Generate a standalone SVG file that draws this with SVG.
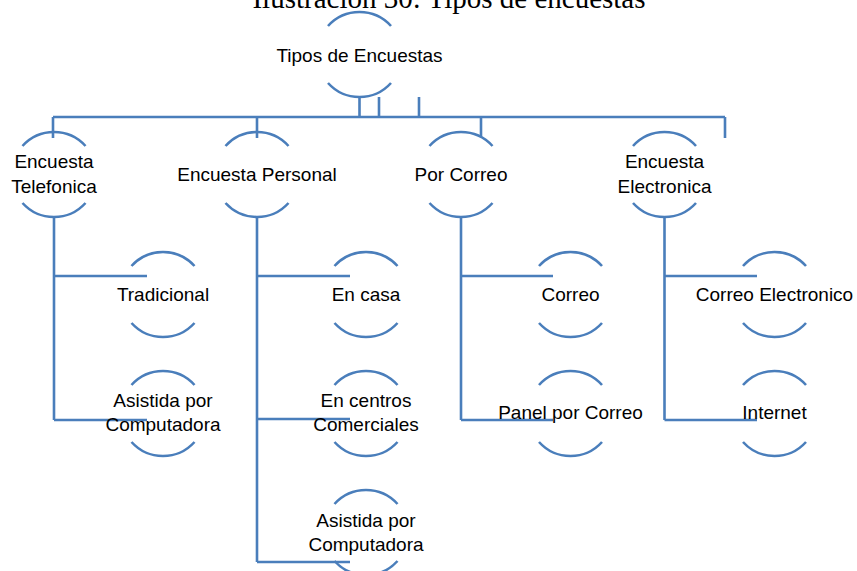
<svg xmlns="http://www.w3.org/2000/svg" xmlns:xlink="http://www.w3.org/1999/xlink" width="857" height="571" viewBox="0 0 857 571">
<style>
.arc{fill:none;stroke:#4A7EBB;stroke-width:2.6}
.ln{fill:none;stroke:#4A7EBB;stroke-width:2.6}
.t{font-family:"Liberation Sans",Arial,sans-serif;font-size:19px;fill:#000;text-anchor:middle}
.cap{font-family:"Liberation Serif","Times New Roman",serif;font-size:29px;fill:#000;text-anchor:middle}
</style>
<defs>
<path id="arcs" class="arc" d="M-31.5,-28.5 A42.5,42.5 0 0 1 31.5,-28.5 M-31.5,28.5 A42.5,42.5 0 0 0 31.5,28.5"/>
</defs>
<rect width="857" height="571" fill="#fff"/>
<text class="cap" x="449" y="7.5">Ilustración 30: Tipos de encuestas</text>
<g id="connectors" class="ln">
<path d="M359.5,97V117M379,97V117M419,97V117M53,117H725M53,117V138M257,117V138M481,117V136M725,117V138"/>
<path d="M54,217V420M54,276H147M54,420H147"/>
<path d="M257,217V562M257,276H350M257,419H350M257,562H350"/>
<path d="M461,217V420M461,276H553M461,420H553"/>
<path d="M664.5,217V420M664.5,276H757M664.5,420H757"/>
</g>
<g id="root"><use xlink:href="#arcs" x="359.5" y="54.5"/><text class="t" x="359.5" y="62">Tipos de Encuestas</text></g>
<g id="telefonica"><use xlink:href="#arcs" x="54" y="174.5"/><text class="t" x="54" y="168">Encuesta</text><text class="t" x="54" y="192.5">Telefonica</text></g>
<g id="personal"><use xlink:href="#arcs" x="257" y="174.5"/><text class="t" x="257" y="181">Encuesta Personal</text></g>
<g id="porcorreo"><use xlink:href="#arcs" x="461" y="174.5"/><text class="t" x="461" y="181">Por Correo</text></g>
<g id="electronica"><use xlink:href="#arcs" x="664.5" y="174.5"/><text class="t" x="664.5" y="168">Encuesta</text><text class="t" x="664.5" y="192.5">Electronica</text></g>
<g id="tradicional"><use xlink:href="#arcs" x="163" y="294.5"/><text class="t" x="163" y="301">Tradicional</text></g>
<g id="asistida1"><use xlink:href="#arcs" x="163" y="413.5"/><text class="t" x="163" y="407">Asistida por</text><text class="t" x="163" y="431">Computadora</text></g>
<g id="encasa"><use xlink:href="#arcs" x="366" y="294.5"/><text class="t" x="366" y="301">En casa</text></g>
<g id="encentros"><use xlink:href="#arcs" x="366" y="413.5"/><text class="t" x="366" y="407">En centros</text><text class="t" x="366" y="431">Comerciales</text></g>
<g id="asistida2"><use xlink:href="#arcs" x="366" y="532.5"/><text class="t" x="366" y="527">Asistida por</text><text class="t" x="366" y="551">Computadora</text></g>
<g id="correo"><use xlink:href="#arcs" x="570.5" y="294.5"/><text class="t" x="570.5" y="301">Correo</text></g>
<g id="panel"><use xlink:href="#arcs" x="570.5" y="413.5"/><text class="t" x="570.5" y="419">Panel por Correo</text></g>
<g id="correoelectronico"><use xlink:href="#arcs" x="774.5" y="294.5"/><text class="t" x="774.5" y="301">Correo Electronico</text></g>
<g id="internet"><use xlink:href="#arcs" x="774.5" y="413.5"/><text class="t" x="774.5" y="419">Internet</text></g>
</svg>
